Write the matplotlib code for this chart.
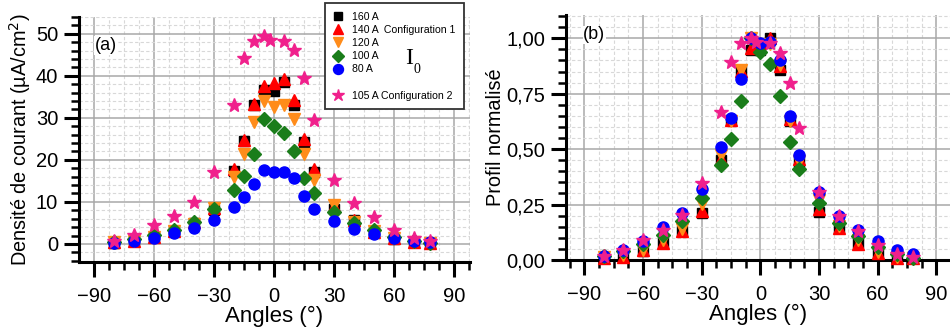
import matplotlib
matplotlib.use("Agg")
import matplotlib.pyplot as plt
from matplotlib.ticker import MultipleLocator
from matplotlib.lines import Line2D
import numpy as np

plt.rcParams['font.family'] = ['Liberation Sans', 'DejaVu Sans']

# angles (deg)
angles_conf1 = [-80, -70, -60, -50, -40, -30, -20, -15, -10, -5, 0, 5, 10, 15, 20, 30, 40, 50, 60, 70, 78]
angles_conf2 = [-80, -70, -60, -50, -40, -30, -20, -15, -10, -5, -2, 5, 10, 15, 20, 30, 40, 50, 60, 70, 78]

# current density (uA/cm2), configuration 1
j_160 = [0.3, 0.6, 1.6, 3.0, 5.0, 8.1, 17.4, 24.4, 33.0, 36.6, 36.5, 38.6, 33.0, 24.2, 17.0, 8.3, 5.6, 2.9, 1.2, 0.4, 0.3]
j_140 = [0.4, 0.6, 1.7, 3.0, 5.2, 8.6, 17.8, 24.8, 33.4, 37.5, 38.3, 39.2, 34.3, 25.0, 17.8, 9.0, 5.7, 2.9, 1.3, 0.4, 0.3]
j_120 = [0.4, 0.7, 1.6, 3.0, 4.8, 8.5, 16.0, 21.3, 29.0, 33.9, 32.5, 33.1, 29.8, 21.3, 15.2, 9.2, 5.2, 3.0, 1.3, 0.5, 0.3]
j_100 = [0.5, 1.2, 2.1, 3.3, 5.3, 8.3, 12.8, 16.2, 21.4, 29.8, 28.0, 26.4, 22.0, 15.8, 12.2, 7.7, 5.0, 3.2, 1.7, 0.8, 0.3]
j_80 = [0.3, 0.8, 1.5, 2.6, 3.7, 5.6, 8.9, 11.2, 14.3, 17.5, 17.1, 17.2, 15.8, 11.4, 8.3, 5.4, 3.5, 2.4, 1.5, 0.8, 0.5]
# configuration 2
j_105 = [0.8, 2.2, 4.5, 6.7, 10.0, 17.1, 33.0, 44.2, 48.3, 49.4, 48.6, 48.4, 46.2, 39.5, 29.5, 15.2, 9.8, 6.4, 3.4, 1.3, 0.7]

series = [
    (angles_conf1, j_160, "160 A", "s", "black", 7),
    (angles_conf1, j_140, "140 A  Configuration 1", "^", "#ff0000", 8.5),
    (angles_conf1, j_120, "120 A", "v", "#ff8c1a", 8.5),
    (angles_conf1, j_100, "100 A", "D", "#1a7d1a", 7),
    (angles_conf1, j_80, "80 A", "o", "#0000ff", 8),
    (angles_conf2, j_105, "105 A Configuration 2", "*", "#f0208c", 10),
]


def style_axes(ax):
    for side in ["top", "right"]:
        ax.spines[side].set_visible(False)
    for side in ["left", "bottom"]:
        ax.spines[side].set_linewidth(2.2)
    ax.tick_params(which="major", direction="out", length=11, width=2.2, labelsize=14.5, pad=4)
    ax.tick_params(axis="x", which="major", pad=7)
    ax.tick_params(which="minor", direction="out", length=6, width=1.8)
    ax.xaxis.set_major_locator(MultipleLocator(30))
    ax.xaxis.set_minor_locator(MultipleLocator(7.5))
    ax.grid(which="major", color="#a8a8a8", lw=1.1, ls="-")
    ax.grid(which="minor", color="#d8d8d8", lw=0.8, ls=(0, (3, 2)))
    ax.set_axisbelow(True)
    ax.set_xlabel("Angles (°)", fontsize=16, labelpad=0)


fig = plt.figure(figsize=(9.5, 3.33), dpi=100)
ax1 = fig.add_axes([0.0832, 0.2132, 0.4115, 0.7358])
ax2 = fig.add_axes([0.5958, 0.2192, 0.4042, 0.7358])

# (a) raw current density
for x, y, lab, mk, col, ms in series:
    ax1.plot(x, y, ls="none", marker=mk, color=col, ms=ms, mec=col, label=lab, clip_on=False, zorder=3)
style_axes(ax1)
ax1.set_xlim(-97.3, 97.8)
ax1.set_ylim(-4.3, 54)
ax1.yaxis.set_major_locator(MultipleLocator(10))
ax1.yaxis.set_minor_locator(MultipleLocator(2))
ax1.set_ylabel("Densité de courant (µA/cm$^2$)", fontsize=14.3, labelpad=2)
ax1.text(0.04, 0.865, "(a)", transform=ax1.transAxes, fontsize=13,
         bbox=dict(facecolor="white", edgecolor="none", pad=0.5), zorder=4)

handles = []
labels = []
for x, y, lab, mk, col, ms in series:
    if lab.startswith("105"):
        handles.append(Line2D([], [], ls="none"))
        labels.append(" ")
    handles.append(Line2D([], [], ls="none", marker=mk, color=col, ms=ms * 0.9))
    labels.append(lab)
leg = ax1.legend(handles, labels, loc="upper left", bbox_to_anchor=(0.628, 1.056),
                 fontsize=7.6, frameon=True, fancybox=False, handlelength=1.0,
                 handletextpad=0.8, labelspacing=0.3, borderpad=0.8,
                 borderaxespad=0, framealpha=1)
leg.get_frame().set_edgecolor("#333333")
leg.get_frame().set_linewidth(1.3)
leg.set_zorder(10)
fig.text(0.426, 0.808, "I", fontsize=17, family="Liberation Serif", va="baseline", zorder=11)
fig.text(0.435, 0.781, "0", fontsize=10, family="Liberation Serif", va="baseline", zorder=11)

# (b) normalised profile
for x, y, lab, mk, col, ms in series:
    y = np.array(y)
    ax2.plot(x, y / y.max(), ls="none", marker=mk, color=col, ms=ms, mec=col, clip_on=False, zorder=3)
style_axes(ax2)
ax2.set_xlim(-99.4, 97)
ax2.set_ylim(0, 1.105)
ax2.set_yticks([0, 0.25, 0.5, 0.75, 1.0])
ax2.set_yticklabels(["0,00", "0,25", "0,50", "0,75", "1,00"])
ax2.yaxis.set_minor_locator(MultipleLocator(0.05))
ax2.set_ylabel("Profil normalisé", fontsize=14.3, labelpad=1)
ax2.text(0.045, 0.9, "(b)", transform=ax2.transAxes, fontsize=13,
         bbox=dict(facecolor="white", edgecolor="none", pad=0.5), zorder=4)

fig.savefig("out.png", dpi=100)
